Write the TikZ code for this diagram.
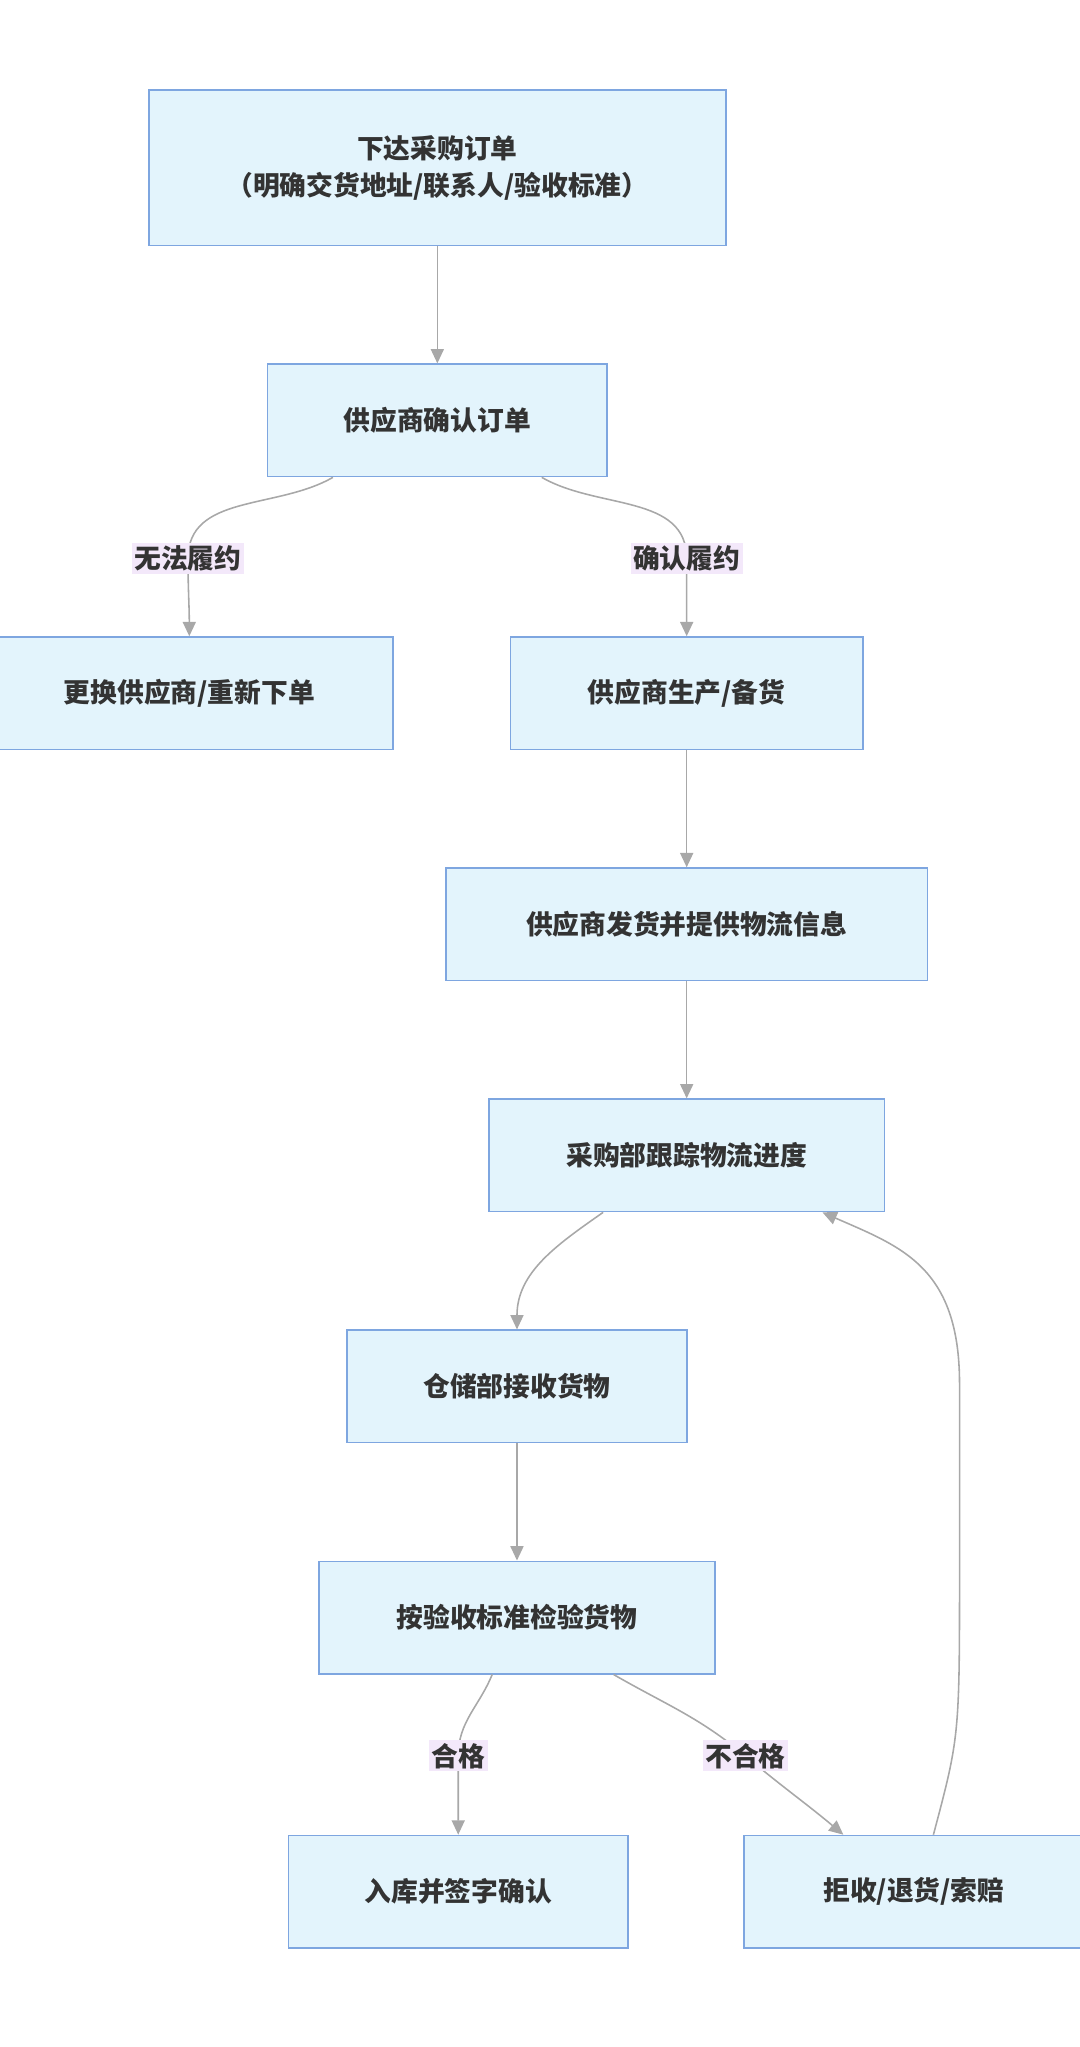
\documentclass[tikz,border=0pt]{standalone}
\usepackage{fontspec}
\setmainfont{Noto Sans CJK SC}
\usetikzlibrary{arrows.meta,calc}
\definecolor{boxFill}{HTML}{E3F4FC}
\definecolor{boxLine}{HTML}{7EA6E0}
\definecolor{lblFill}{HTML}{F3E8FA}
\definecolor{flowGray}{HTML}{A8A8A8}
\tikzset{
   every path/.style={>={Triangle[length=11pt,width=10pt,fill=flowGray]}},
   stage/.style={draw=boxLine,fill=boxFill,line width=1.3pt,minimum height=86pt,
                font=\fontsize{20.5}{28}\selectfont\bfseries,text=black!80,align=center,inner sep=0pt},
   cond/.style={fill=lblFill,font=\fontsize{20.5}{24}\selectfont\bfseries,text=black!80,inner sep=2pt},
   flow/.style={->,draw=flowGray,line width=1.2pt},
}
\begin{document}
\begin{tikzpicture}[x=1pt,y=-1pt]
        \useasboundingbox (0,0) rectangle (827,1568);

        \node[stage,minimum width=442pt,minimum height=119pt] (order) at (335,128.5) {下达采购订单\\（明确交货地址/联系人/验收标准）};
        \node[stage,minimum width=260pt] (confirm) at (335,322) {供应商确认订单};
        \node[stage,minimum width=312pt] (change)  at (145,531) {更换供应商/重新下单};
        \node[stage,minimum width=270pt] (produce) at (526,531) {供应商生产/备货};
        \node[stage,minimum width=369pt] (ship)    at (526,708) {供应商发货并提供物流信息};
        \node[stage,minimum width=303pt] (track)   at (526,885) {采购部跟踪物流进度};
        \node[stage,minimum width=260pt] (receive) at (396,1062) {仓储部接收货物};
        \node[stage,minimum width=303pt] (inspect) at (396,1239) {按验收标准检验货物};
        \node[stage,minimum width=260pt] (store)   at (351,1449) {入库并签字确认};
        \node[stage,minimum width=260pt] (reject)  at (700,1449) {拒收/退货/索赔};

        \coordinate (fail)   at (144,428);
        \coordinate (ok)     at (526,428);
        \coordinate (pass)   at (351,1345);
        \coordinate (nopass) at (571,1345);

        \draw[flow] (order) -- (confirm);
        \draw[flow] ([xshift=-80]confirm.south) to[out=-150,in=90] (fail) to[out=-90,in=90] (change.north);
        \draw[flow] ([xshift=80]confirm.south) to[out=-30,in=90] (ok) to[out=-90,in=90] (produce.north);
        \draw[flow] (produce) -- (ship);
        \draw[flow] (ship) -- (track);
        \draw[flow] ([xshift=-64]track.south) to[out=-145,in=90] (receive.north);
        \draw[flow] (receive) -- (inspect);
        \draw[flow] ([xshift=-19]inspect.south) to[out=-112,in=90] (pass) to[out=-90,in=90] (store.north);
        \draw[flow] ([xshift=74]inspect.south) to[out=-30,in=140] (nopass) to[out=-40,in=140] ([xshift=-54]reject.north);
        \draw[flow] ([xshift=15]reject.north) .. controls (735,1330) .. (735,1200) -- (735,1060)
                    .. controls (735,970) and (690,955) .. ([xshift=104]track.south);

        \node[cond] at (fail)   {无法履约};
        \node[cond] at (ok)     {确认履约};
        \node[cond] at (pass)   {合格};
        \node[cond] at (nopass) {不合格};

      \end{tikzpicture}
\end{document}
